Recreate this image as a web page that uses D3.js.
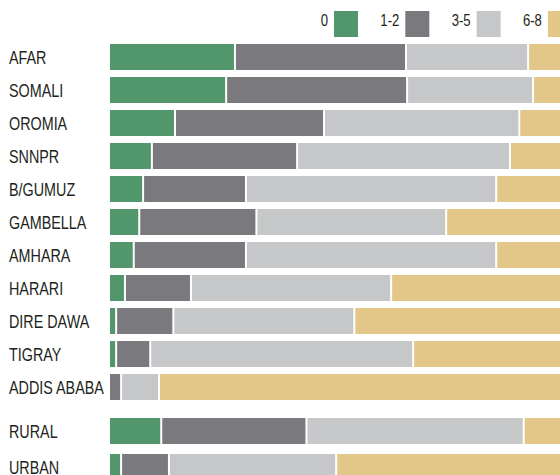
<!DOCTYPE html>
<html>
<head>
<meta charset="utf-8">
<title>Stacked bars by region</title>
<style>
  body { margin: 0; background: #fff; }
  svg { display: block; }
  text { font-family: "Liberation Sans", Arial, sans-serif; fill: #231f20; }
</style>
</head>
<body>
<div id="chart"></div>
<script src="https://cdn.jsdelivr.net/npm/d3@7"></script>
<script>
// categories (share of each group, percent)
var groups   = ["0", "1-2", "3-5", "6-8"];
var colors   = ["#52976b", "#7a7a7e", "#c6c7c9", "#e2c788"];

var regions  = ["AFAR", "SOMALI", "OROMIA", "SNNPR", "B/GUMUZ", "GAMBELLA", "AMHARA",
                "HARARI", "DIRE DAWA", "TIGRAY", "ADDIS ABABA"];
var regZero  = [22.9, 21.3, 12.0,  7.8,  6.2,  5.5,  4.5,  2.9,  1.3,  1.3,  0.0];
var regOne   = [31.1, 32.9, 27.1, 26.4, 18.7, 21.3, 20.4, 12.0, 10.4,  6.2,  2.2];
var regThree = [22.2, 22.9, 35.5, 38.7, 45.5, 34.5, 45.5, 36.4, 32.9, 47.8,  6.9];
var regSix   = [23.8, 22.9, 25.4, 27.1, 29.6, 38.7, 29.6, 48.7, 55.4, 44.7, 90.9];

var areas     = ["RURAL", "URBAN"];
var areaZero  = [9.5, 2.2];
var areaOne   = [26.4, 8.7];
var areaThree = [39.5, 30.4];
var areaSix   = [24.6, 58.7];

var width = 560, height = 475;
var narrow = 0.82; // condensed look: squeeze Liberation Sans horizontally

var svg = d3.select("#chart").append("svg")
    .attr("width", width)
    .attr("height", height);

// bars run past the right edge of the frame, as in the original crop
var x = d3.scaleLinear().domain([0, 100]).range([110, 660]);

var yReg = d3.scaleBand().domain(regions)
    .range([44, 44 + 11 * 33 - 7])
    .paddingInner(7 / 33);

var yArea = d3.scaleBand().domain(areas)
    .range([418, 418 + 36 + 26])
    .paddingInner(10 / 36);

var color = d3.scaleOrdinal().domain(groups).range(colors);

function rows(names, cols) {
    return names.map(function(n, i) {
        var r = { name: n };
        groups.forEach(function(g, j) { r[g] = cols[j][i]; });
        return r;
    });
}

var stack = d3.stack().keys(groups);

function drawBlock(data, y) {
    var series = stack(data);

    svg.append("g").selectAll("g")
        .data(series)
        .join("g")
        .attr("fill", function(d) { return color(d.key); })
      .selectAll("rect")
        .data(function(d) { return d; })
        .join("rect")
        .attr("x", function(d) { return x(d[0]); })
        .attr("y", function(d) { return y(d.data.name); })
        .attr("width", function(d) { return Math.max(0, x(d[1]) - x(d[0]) - 2); })
        .attr("height", y.bandwidth());

    svg.append("g")
        .attr("transform", "scale(" + narrow + ",1)")
      .selectAll("text")
        .data(data)
        .join("text")
        .attr("x", 9 / narrow)
        .attr("y", function(d) { return y(d.name) + y.bandwidth() / 2 + 7.5; })
        .style("font-size", "17.5px")
        .text(function(d) { return d.name; });
}

drawBlock(rows(regions, [regZero, regOne, regThree, regSix]), yReg);
drawBlock(rows(areas, [areaZero, areaOne, areaThree, areaSix]), yArea);

// legend
var legend = svg.append("g").selectAll("g")
    .data(groups)
    .join("g")
    .attr("transform", function(d, i) { return "translate(" + (334 + i * 71.3) + ",11)"; });

legend.append("rect")
    .attr("width", 24)
    .attr("height", 26)
    .attr("fill", function(d) { return color(d); });

legend.append("text")
    .attr("transform", "scale(" + narrow + ",1)")
    .attr("x", -6 / narrow)
    .attr("y", 15.5)
    .attr("text-anchor", "end")
    .style("font-size", "16px")
    .text(function(d) { return d; });
</script>
</body>
</html>
